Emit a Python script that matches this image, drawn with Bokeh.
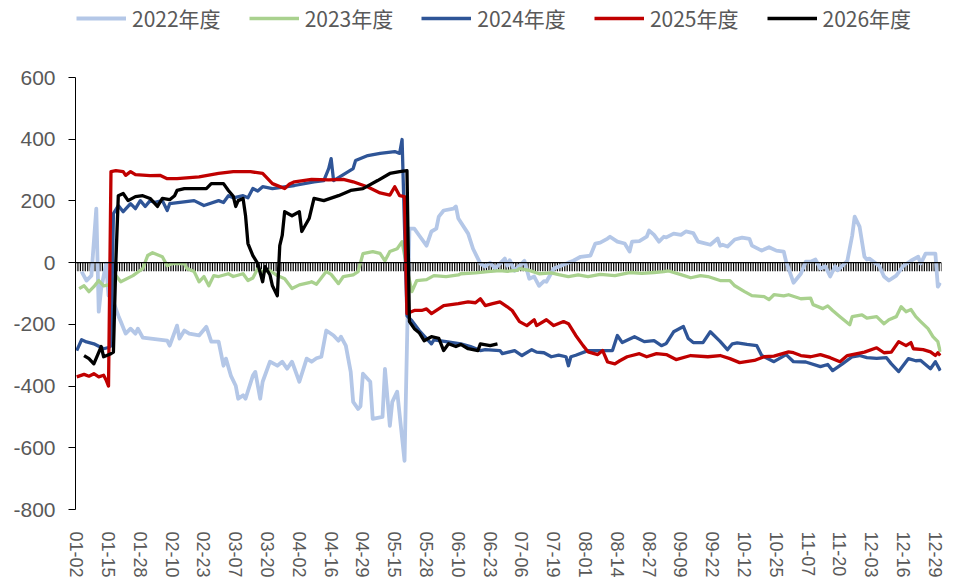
from datetime import date, timedelta
import numpy as np
from bokeh.plotting import figure
from bokeh.models import Span, Legend, LegendItem, FixedTicker
from bokeh.embed import file_html
from bokeh.resources import INLINE

# ---- categories: MM-DD dates (union of trading dates), labelled every 13th ----
closed_days = ["01-01", "04-04", "05-01", "05-02", "05-03",
               "10-01", "10-02", "10-03", "10-04", "10-05", "10-06", "10-07"]
categories = []
_d = date(2024, 1, 1)
while _d.year == 2024:
    _s = _d.strftime("%m-%d")
    if _s not in closed_days:
        categories.append(_s)
    _d += timedelta(days=1)
label_step = 13

# ---- series: (category position, value) ----
s2022 = [(2,-29),(4,-58),(6,-42),(8,175),(9,-159),(10,-84),(12,-3),(13,-107),(14,-60),(15,-127),
         (17,-172),(18,-191),(20,-230),(22,-214),(24,-230),(25,-214),(27,-243),(32,-248),(37,-253),
         (38,-269),(41,-204),(42,-246),(44,-220),(46,-230),(50,-236),(53,-208),(55,-256),(58,-256),
         (60,-334),(61,-311),(63,-366),(65,-399),(66,-441),(68,-430),(69,-441),(72,-366),(73,-354),
         (75,-441),(76,-386),(79,-321),(82,-334),(84,-321),(86,-344),(88,-321),(91,-386),(94,-311),
         (96,-321),(98,-310),(100,-305),(102,-220),(105,-236),(107,-253),(108,-240),(110,-269),
         (112,-354),(113,-451),(115,-474),(116,-465),(117,-360),(120,-386),(121,-506),(125,-500),
         (126,-344),(128,-529),(129,-451),(131,-418),(134,-642),(136,110),(138,110),(140,88),(143,55),
         (145,101),(147,110),(148,149),(150,169),(154,175),(155,182),(156,143),(160,94),(162,45),
         (165,-3),(167,-13),(169,0),(171,-19),(173,-3),(175,13),(176,-10),(177,8),(179,-26),(183,6),
         (185,-52),(187,-45),(189,-75),(191,-60),(192,-62),(195,-19),(198,-10),(201,0),(203,6),
         (206,19),(210,23),(212,62),(214,65),(217,78),(218,84),(221,68),(224,62),(226,36),(227,68),
         (230,70),(233,84),(234,104),(236,90),(238,68),(240,84),(241,82),(244,94),(247,90),(249,101),
         (252,96),(254,68),(256,64),(259,58),(262,78),(263,55),(264,58),(266,52),(269,75),(272,81),
         (275,77),(276,55),(280,39),(283,50),(286,39),(289,36),(290,3),(292,-42),(293,-65),(296,-36),
         (298,3),(300,3),(302,10),(304,-19),(306,-12),(308,-45),(310,-12),(311,-25),(315,6),(317,88),
         (318,149),(320,117),(322,19),(323,10),(324,13),(328,-10),(330,-45),(332,-58),(335,-42),
         (338,-10),(341,6),(344,19),(345,-3),(347,29),(351,29),(352,-78),(353,-65)]

s2023 = [(1,-84),(3,-75),(5,-94),(7,-78),(9,-58),(11,-75),(13,-72),(14,-84),(16,-42),(18,-62),
         (23,-42),(27,-19),(29,23),(31,32),(35,19),(37,-10),(39,-3),(44,-3),(45,-19),(48,-29),
         (50,-62),(52,-45),(54,-75),(56,-42),(58,-45),(62,-36),(64,-45),(68,-36),(70,-58),(72,-50),
         (74,-19),(76,-30),(79,-26),(82,-42),(85,-52),(88,-84),(91,-72),(95,-65),(96,-62),(98,-70),
         (102,-29),(104,-38),(107,-68),(109,-45),(113,-40),(115,-29),(117,29),(121,36),(124,30),
         (126,6),(128,36),(131,45),(133,68),(135,-19),(137,-94),(139,-58),(143,-55),(146,-42),
         (151,-45),(156,-40),(157,-36),(163,-33),(168,-29),(173,-26),(176,-28),(180,-25),(181,-19),
         (185,-25),(189,-36),(194,-33),(197,-39),(201,-45),(205,-40),(209,-45),(214,-38),(220,-42),
         (226,-32),(231,-35),(236,-32),(240,-29),(242,-27),(247,-39),(251,-49),(255,-42),(258,-45),
         (263,-58),(267,-58),(269,-75),(273,-94),(276,-107),(281,-110),(283,-120),(285,-104),
         (289,-108),(291,-104),(296,-117),(300,-115),(301,-136),(305,-149),(307,-140),(309,-155),
         (312,-175),(316,-201),(317,-175),(321,-169),(323,-180),(327,-175),(330,-198),(332,-185),
         (335,-175),(337,-143),(339,-159),(341,-152),(343,-175),(345,-191),(348,-214),(350,-240),
         (352,-256),(353,-289)]

s2024 = [(0,-285),(2,-250),(4,-257),(7,-263),(11,-279),(13,-275),(14,-270),(15,159),(17,185),
         (19,165),(22,191),(24,175),(26,201),(28,182),(30,201),(32,195),(35,201),(37,169),(38,191),
         (48,201),(52,185),(58,201),(60,195),(62,217),(64,210),(68,217),(70,210),(72,240),(74,232),
         (76,246),(80,240),(89,250),(97,262),(101,266),(103,305),(104,337),(105,266),(111,295),
         (113,305),(114,331),(119,347),(124,354),(130,360),(132,354),(133,399),(135,-172),(137,-188),
         (140,-220),(143,-246),(145,-263),(146,-250),(151,-256),(157,-263),(161,-272),(165,-285),
         (167,-282),(173,-285),(174,-295),(179,-285),(182,-301),(186,-282),(188,-290),(191,-292),
         (194,-305),(197,-300),(200,-305),(201,-334),(202,-305),(204,-300),(209,-285),(214,-285),
         (219,-285),(221,-236),(223,-259),(228,-240),(232,-256),(236,-253),(239,-269),(241,-262),
         (244,-224),(248,-207),(250,-246),(252,-259),(256,-259),(259,-224),(263,-255),(266,-282),
         (268,-263),(270,-260),(274,-265),(278,-269),(280,-301),(285,-321),(290,-298),(293,-321),
         (298,-322),(304,-337),(307,-330),(309,-350),(313,-328),(317,-305),(320,-301),(323,-308),
         (327,-310),(331,-308),(333,-328),(336,-353),(340,-311),(343,-318),(345,-317),(349,-344),
         (351,-321),(353,-350)]

s2025 = [(0,-370),(3,-362),(5,-368),(7,-360),(9,-370),(11,-365),(12,-380),(13,-400),(14,295),
         (16,298),(19,295),(20,283),(22,295),(24,285),(30,282),(34,283),(37,272),(41,272),(50,278),
         (58,289),(64,295),(71,295),(76,289),(80,256),(85,240),(87,255),(89,262),(96,270),(103,268),
         (109,270),(113,262),(119,245),(124,226),(128,219),(130,246),(132,217),(134,214),(135,-165),
         (138,-155),(141,-155),(143,-150),(145,-165),(150,-139),(156,-133),(160,-127),(163,-130),
         (165,-117),(167,-139),(170,-133),(173,-127),(176,-143),(178,-155),(181,-191),(184,-204),
         (187,-185),(188,-204),(192,-185),(195,-204),(199,-191),(201,-198),(204,-236),(207,-269),
         (209,-289),(213,-298),(215,-285),(217,-322),(220,-328),(222,-318),(225,-305),(230,-295),
         (233,-305),(237,-295),(241,-298),(245,-314),(251,-301),(258,-305),(263,-301),(267,-311),
         (271,-324),(277,-317),(281,-305),(285,-303),(291,-289),(293,-292),(296,-301),(300,-305),
         (304,-298),(308,-308),(312,-321),(315,-301),(319,-295),(322,-290),(327,-276),(330,-292),
         (333,-290),(336,-256),(339,-269),(341,-259),(342,-279),(346,-282),(349,-289),(351,-301),
         (352,-292),(353,-301)]

s2026 = [(3,-301),(5,-311),(7,-328),(10,-272),(11,-305),(14,-295),(15,-290),(16,3),(17,217),
         (19,224),(21,201),(24,214),(27,217),(30,208),(33,182),(35,208),(38,204),(40,217),(41,234),
         (44,240),(53,240),(55,256),(60,256),(62,234),(64,215),(65,182),(66,201),(68,208),(69,153),
         (70,62),(72,23),(74,-3),(76,-62),(77,-13),(79,-40),(80,-75),(82,-107),(83,55),(84,88),
         (85,165),(88,152),(91,165),(92,101),(95,143),(97,208),(101,201),(107,217),(112,234),
         (117,240),(123,266),(128,289),(132,295),(135,298),(136,-191),(138,-214),(140,-227),
         (142,-253),(145,-240),(148,-245),(150,-285),(152,-263),(155,-272),(157,-265),(160,-279),
         (164,-285),(165,-263),(169,-269),(172,-263)]

series_names = ["2022年度", "2023年度", "2024年度", "2025年度", "2026年度"]
series_data = [s2022, s2023, s2024, s2025, s2026]
series_colors = ["#B4C7E7", "#A9D18E", "#2F5597", "#C00000", "#000000"]
series_widths = [3.8, 3.3, 3.3, 3.3, 3.3]

y_ticks = [-800, -600, -400, -200, 0, 200, 400, 600]

TEXT = "#595959"
n = len(categories)

# layout (px)
FRAME_W, FRAME_H = 866, 509
axis_px = 432.0                       # pixel span of the -800..600 axis
units_per_px = (y_ticks[-1] - y_ticks[0]) / axis_px
y_top = y_ticks[0] + FRAME_H * units_per_px   # room above the axis for the legend

p = figure(frame_width=FRAME_W, frame_height=FRAME_H,
           min_border_left=75, min_border_top=0, min_border_right=12, min_border_bottom=0,
           x_range=(-0.5, n - 0.5), y_range=(y_ticks[0], y_top),
           output_backend="svg", toolbar_location=None)
p.outline_line_color = None
p.xgrid.grid_line_color = None
p.ygrid.grid_line_color = None

# y axis
p.yaxis.ticker = FixedTicker(ticks=y_ticks)
p.yaxis.major_label_overrides = {v: str(v) for v in y_ticks}
p.yaxis.bounds = (y_ticks[0], y_ticks[-1])
p.yaxis.major_label_text_font = "Liberation Sans"
p.yaxis.major_label_text_font_size = "21px"
p.yaxis.major_label_text_color = TEXT
p.yaxis.axis_line_color = "black"
p.yaxis.major_tick_line_color = "black"
p.yaxis.major_tick_out = 7
p.yaxis.major_tick_in = 0
p.yaxis.minor_tick_line_color = None
p.yaxis.major_label_standoff = 13

# x axis (labels only)
tick_pos = list(range(0, n, label_step))
p.xaxis.ticker = FixedTicker(ticks=tick_pos)
p.xaxis.major_label_overrides = {i: categories[i] for i in tick_pos}
p.xaxis.major_label_orientation = "vertical"
p.xaxis.major_label_text_font = "Liberation Sans"
p.xaxis.major_label_text_font_size = "18px"
p.xaxis.major_label_text_color = TEXT
p.xaxis.axis_line_color = None
p.xaxis.major_tick_line_color = None
p.xaxis.minor_tick_line_color = None
p.xaxis.major_label_standoff = 16

# category axis drawn at zero: line + a tick at every category boundary
tick_len = 8.5 * units_per_px
bx = np.arange(n + 1) - 0.5
p.segment(x0=bx, y0=np.zeros(n + 1), x1=bx, y1=np.full(n + 1, -tick_len),
          line_color="black", line_width=1.2)
p.add_layout(Span(location=0, dimension="width", line_color="black", line_width=1.3))

items = []
for name, data, col, w in zip(series_names, series_data, series_colors, series_widths):
    xs = [a for a, b in data]
    ys = [b for a, b in data]
    r = p.line(xs, ys, line_color=col, line_width=w, line_join="round")
    items.append(LegendItem(label=name, renderers=[r]))

legend = Legend(items=items, orientation="horizontal", location=(1, FRAME_H - 33),
                label_text_font="Noto Sans CJK SC", label_text_font_size="21px",
                label_text_color=TEXT, glyph_width=50, glyph_height=22,
                label_standoff=6, spacing=28, padding=0, margin=0,
                border_line_color=None, background_fill_alpha=0)
p.add_layout(legend)

open("out.html", "w").write(file_html(p, INLINE))
